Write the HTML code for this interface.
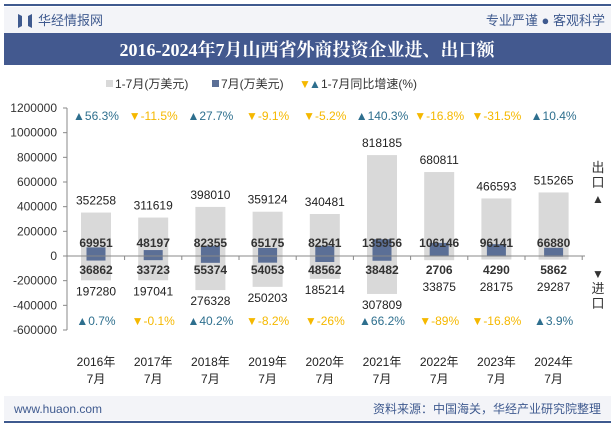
<!DOCTYPE html>
<html><head><meta charset="utf-8"><style>
body{margin:0;width:615px;height:427px;overflow:hidden;background:#fff;font-family:"Liberation Sans","Noto Sans CJK SC",sans-serif;}
</style></head><body>
<svg id="c" width="615" height="427" xmlns="http://www.w3.org/2000/svg" font-family="Liberation Sans, Noto Sans CJK SC, sans-serif">
<rect x="4" y="4" width="607" height="2" fill="#3f5a8f"/>
<rect x="4" y="7" width="607" height="26" fill="#f3f4f8"/>
<path d="M18 14 L22 16 L22 26 L18 28 Z M28 16 L32 14 L32 28 L28 26 Z" fill="#3f5a8f"/>
<text x="38" y="25" font-size="13" fill="#3f5a8f">华经情报网</text>
<text x="605" y="25" font-size="13" fill="#3f5a8f" text-anchor="end">专业严谨 ● 客观科学</text>
<rect x="4" y="33" width="607" height="32" fill="#43598f"/>
<text x="307" y="56" font-size="18" font-weight="bold" fill="#fff" text-anchor="middle" font-family="Liberation Serif, Noto Serif CJK SC, serif">2016-2024年7月山西省外商投资企业进、出口额</text>
<g font-size="12" fill="#333">
<rect x="106" y="80" width="7" height="7" fill="#d9d9d9"/>
<text x="115" y="88">1-7月(万美元)</text>
<rect x="212" y="80" width="7" height="7" fill="#5b6f96"/>
<text x="221" y="88">7月(万美元)</text>
<text x="299" y="88" fill="#f5b800">▼</text>
<text x="309" y="88" fill="#2e6f8e">▲</text>
<text x="321" y="88">1-7月同比增速(%)</text>
</g>
<g id="plot"></g>
<text x="598" y="172" font-size="13" fill="#333" text-anchor="middle">出</text>
<text x="598" y="187" font-size="13" fill="#333" text-anchor="middle">口</text>
<text x="598" y="203" font-size="12" fill="#333" text-anchor="middle">▲</text>
<text x="598" y="278" font-size="12" fill="#333" text-anchor="middle">▼</text>
<text x="598" y="293" font-size="13" fill="#333" text-anchor="middle">进</text>
<text x="598" y="308" font-size="13" fill="#333" text-anchor="middle">口</text>
<rect x="4" y="396" width="607" height="24" fill="#f3f4f8"/>
<rect x="4" y="421" width="607" height="2" fill="#3f5a8f"/>
<text x="14" y="413" font-size="12" fill="#3f5a8f">www.huaon.com</text>
<text x="601" y="413" font-size="12" fill="#3f5a8f" text-anchor="end">资料来源：中国海关，华经产业研究院整理</text>
</svg>
<script>
const years=["2016年","2017年","2018年","2019年","2020年","2021年","2022年","2023年","2024年"];
const exportYtd=[352258,311619,398010,359124,340481,818185,680811,466593,515265];
const exportMonth=[69951,48197,82355,65175,82541,135956,106146,96141,66880];
const importYtd=[197280,197041,276328,250203,185214,307809,33875,28175,29287];
const importMonth=[36862,33723,55374,54053,48562,38482,2706,4290,5862];
const exportGrowth=[56.3,-11.5,27.7,-9.1,-5.2,140.3,-16.8,-31.5,10.4];
const importGrowth=[0.7,-0.1,40.2,-8.2,-26,66.2,-89,-16.8,3.9];
const yTicks=[1200000,1000000,800000,600000,400000,200000,0,-200000,-400000,-600000];
const NS="http://www.w3.org/2000/svg";
const g=document.getElementById('plot');
const y0=256,k=148/1200000;
const yS=v=>y0-v*k;
const xS=i=>96+i*57.2;
function mk(t,a,txt){const e=document.createElementNS(NS,t);for(const n in a)e.setAttribute(n,a[n]);if(txt!==undefined)e.textContent=txt;g.appendChild(e);return e;}
let ax=mk('line',{x1:67,x2:67,y1:yS(1200000),y2:yS(-600000),stroke:'#888'});


yTicks.forEach(v=>{
 let t=mk('text',{x:57,y:yS(v)+4,'font-size':12,fill:'#333','text-anchor':'end'},String(v));
 
 
 let l=mk('line',{x1:63,x2:67,y1:yS(v),y2:yS(v),stroke:'#888'});
 
 
});
years.forEach((yr,i)=>{
 const x=xS(i);
 let a=mk('rect',{x:x-15,y:yS(exportYtd[i]),width:30,height:exportYtd[i]*k,fill:'#d9d9d9'});
 
 
 let b=mk('rect',{x:x-15,y:y0,width:30,height:importYtd[i]*k,fill:'#d9d9d9'});
 
 
 let c=mk('rect',{x:x-9.5,y:yS(exportMonth[i]),width:19,height:exportMonth[i]*k,fill:'#5b6f96'});
 
 
 let d=mk('rect',{x:x-9.5,y:y0,width:19,height:importMonth[i]*k,fill:'#5b6f96'});
 
 
 let t1=mk('text',{x:x,y:yS(exportYtd[i])-8,'font-size':12,fill:'#222','text-anchor':'middle'},exportYtd[i]);
 
 
 let t2=mk('text',{x:x,y:247,'font-size':12,'font-weight':'bold',fill:'#333','text-anchor':'middle'},exportMonth[i]);
 
 
 let t3=mk('text',{x:x,y:274,'font-size':12,'font-weight':'bold',fill:'#333','text-anchor':'middle'},importMonth[i]);
 
 
 let t4=mk('text',{x:x,y:Math.max(yS(-importYtd[i])+15,291),'font-size':12,fill:'#222','text-anchor':'middle'},importYtd[i]);
 
 
 const eu=exportGrowth[i]>=0;
 let t5=mk('text',{x:x,y:120,'font-size':12,fill:eu?'#2e6f8e':'#f5b800','text-anchor':'middle'},(eu?'▲':'▼')+exportGrowth[i]+'%');
 
 
 const iu=importGrowth[i]>=0;
 let t6=mk('text',{x:x,y:325,'font-size':12,fill:iu?'#2e6f8e':'#f5b800','text-anchor':'middle'},(iu?'▲':'▼')+importGrowth[i]+'%');
 
 
 let t7=mk('text',{x:x,y:366,'font-size':12,fill:'#222','text-anchor':'middle'},yr);
 
 
 let t8=mk('text',{x:x,y:383,'font-size':12,fill:'#222','text-anchor':'middle'},'7月');
 
 
 let tk=mk('line',{x1:x+28.6,x2:x+28.6,y1:y0,y2:y0+4,stroke:'#888'});
 
 
});
let xa=mk('line',{x1:67,x2:585,y1:y0,y2:y0,stroke:'#888'});


</script>
</body></html>
